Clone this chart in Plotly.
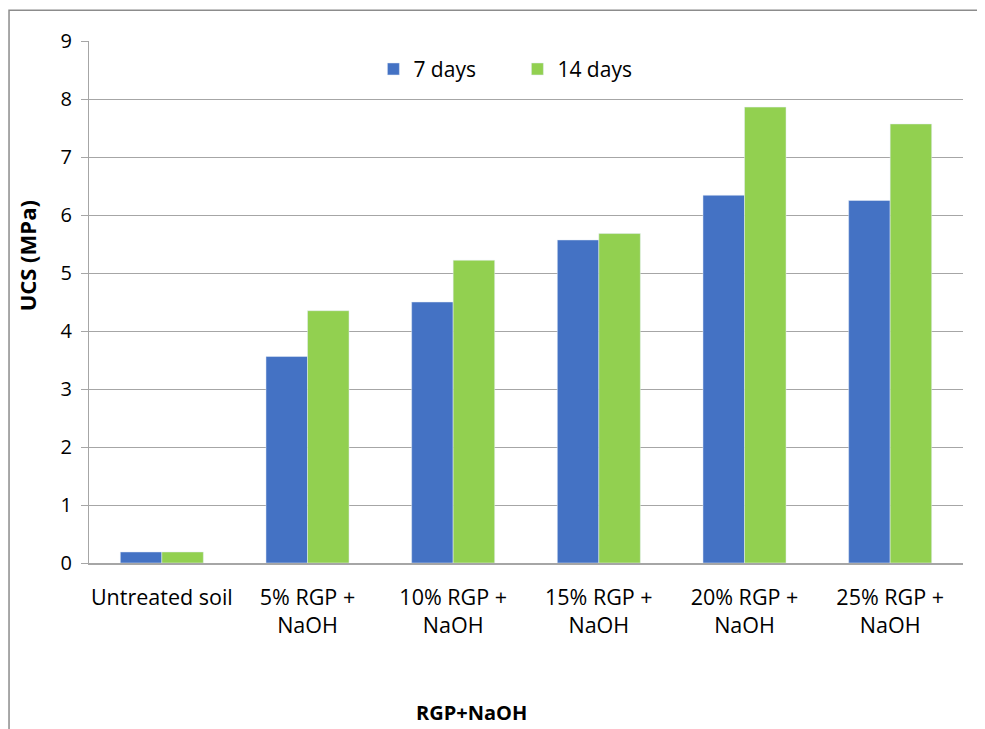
import plotly.graph_objects as go

categories = ["Untreated soil", "5% RGP +<br>NaOH", "10% RGP +<br>NaOH",
              "15% RGP +<br>NaOH", "20% RGP +<br>NaOH", "25% RGP +<br>NaOH"]
days7 = [0.19, 3.56, 4.50, 5.57, 6.34, 6.25]
days14 = [0.19, 4.35, 5.22, 5.68, 7.86, 7.57]
y_ticks = [0, 1, 2, 3, 4, 5, 6, 7, 8, 9]

FONT = "Open Sans"

fig = go.Figure()
fig.add_trace(go.Bar(name="7 days", x=categories, y=days7, marker_color="#4472C4"))
fig.add_trace(go.Bar(name="14 days", x=categories, y=days14, marker_color="#92D050"))

fig.update_layout(
    width=985, height=721,
    margin=dict(l=81, r=30, t=33, b=166),
    paper_bgcolor="white", plot_bgcolor="white",
    barmode="group", bargap=0.43, bargroupgap=0,
    font=dict(family=FONT, size=21, color="#000000"),
    showlegend=True,
    legend=dict(orientation="h", x=0.3254, xanchor="left", y=0.985, yanchor="top",
                font=dict(size=21), bgcolor="rgba(0,0,0,0)",
                entrywidth=99, entrywidthmode="pixels", traceorder="normal"),
    xaxis=dict(showgrid=False, showline=True, linecolor="#a6a6a6", linewidth=1.5,
               ticks="", tickfont=dict(size=21.5), ticklabelstandoff=14),
    yaxis=dict(range=[0, 9], tickvals=y_ticks, showgrid=True, gridcolor="#a6a6a6",
               gridwidth=1, showline=True, linecolor="#a6a6a6", linewidth=1,
               ticks="outside", ticklen=7, tickcolor="#a6a6a6", zeroline=False,
               tickfont=dict(size=20), ticklabelstandoff=5),
    annotations=[
        dict(text="<b>UCS (MPa)</b>", xref="paper", yref="paper",
             x=-0.0706, y=0.588, textangle=-90, showarrow=False,
             font=dict(size=22), xanchor="center", yanchor="middle"),
        dict(text="<b>RGP+NaOH</b>", xref="paper", yref="paper",
             x=0.438, y=-0.287, showarrow=False,
             font=dict(size=20), xanchor="center", yanchor="middle"),
    ],
    shapes=[dict(type="rect", xref="paper", yref="paper",
                 x0=-0.0915, x1=1.1, y0=-0.36, y1=1.059,
                 line=dict(color="#8c8c8c", width=1.5), fillcolor="rgba(0,0,0,0)",
                 layer="below")],
)

fig.write_html("out.html")
